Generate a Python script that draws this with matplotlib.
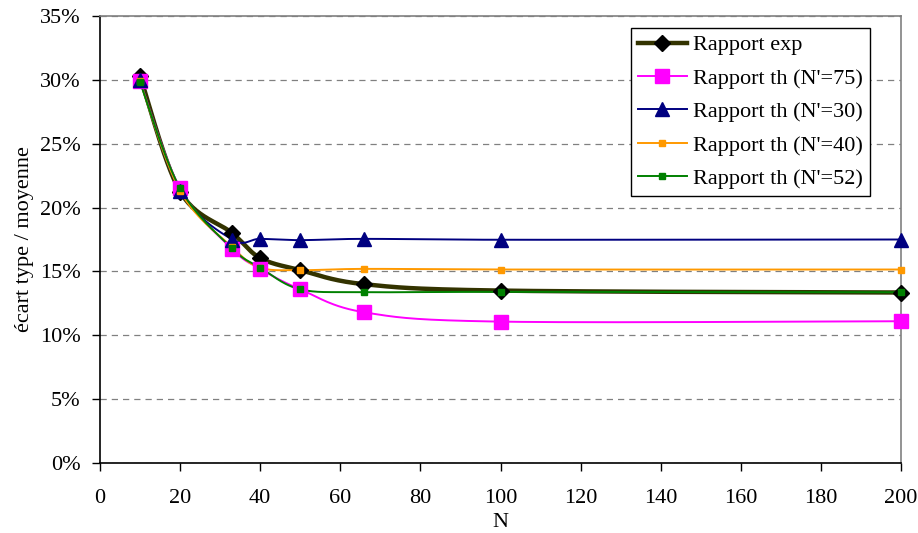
import numpy as np
import matplotlib
matplotlib.use("Agg")
import matplotlib.pyplot as plt
from matplotlib.ticker import FuncFormatter, MultipleLocator

plt.rcParams['font.family'] = ['Liberation Serif', 'DejaVu Serif']

N = [10, 20, 33, 40, 50, 66, 100, 200]
exp_vals = [30.3, 21.25, 18.0, 16.05, 15.1, 14.0, 13.5, 13.35]
th75 = [29.9, 21.5, 16.75, 15.2, 13.6, 11.8, 11.07, 11.1]
th30 = [30.0, 21.3, 17.5, 17.55, 17.45, 17.55, 17.48, 17.5]
th40 = [29.9, 21.3, 16.9, 15.3, 15.1, 15.2, 15.15, 15.15]
th52 = [29.8, 21.5, 16.8, 15.3, 13.6, 13.38, 13.4, 13.37]

labels = ["Rapport exp", "Rapport th (N'=75)", "Rapport th (N'=30)",
          "Rapport th (N'=40)", "Rapport th (N'=52)"]

FS = 16

fig = plt.figure(figsize=(9.18, 5.33), dpi=100)
ax = fig.add_axes([100/918, 1-463/533, 801/918, 447/533])
ax.set_xlim(0, 200)
ax.set_ylim(0, 35)


def smooth(x, y, n=30):
    # Excel-like smoothing: Bezier segments (Catmull-Rom) in display space
    pts = ax.transData.transform(np.column_stack([x, y]))
    P = np.vstack([pts[0], pts, pts[-1]])
    out = []
    for i in range(1, len(P) - 2):
        p0, p1, p2, p3 = P[i-1], P[i], P[i+1], P[i+2]
        c1 = p1 + (p2 - p0) / 6.0
        c2 = p2 - (p3 - p1) / 6.0
        t = np.linspace(0, 1, n)[:, None]
        seg = ((1-t)**3)*p1 + 3*((1-t)**2)*t*c1 + 3*(1-t)*t**2*c2 + t**3*p2
        out.append(seg if i == 1 else seg[1:])
    out = np.vstack(out)
    d = ax.transData.inverted().transform(out)
    return d[:, 0], d[:, 1]


styles = [
    (exp_vals, dict(color='#333300', lw=3.2), dict(marker='D', ms=8, mfc='black', mec='black')),
    (th75, dict(color='#FF00FF', lw=1.4), dict(marker='s', ms=9.5, mfc='#FF00FF', mec='#FF00FF')),
    (th30, dict(color='#000080', lw=1.4), dict(marker='^', ms=10, mfc='#000080', mec='#000080')),
    (th40, dict(color='#FF9900', lw=1.4), dict(marker='s', ms=4, mfc='#FF9900', mec='#FF9900')),
    (th52, dict(color='#008000', lw=1.4), dict(marker='s', ms=4, mfc='#008000', mec='#008000')),
]

handles = []
for (vals, lstyle, mstyle), lab in zip(styles, labels):
    sx, sy = smooth(N, vals)
    ax.plot(sx, sy, zorder=3, solid_capstyle='round', **lstyle)
    ax.plot(N, vals, ls='none', zorder=4, clip_on=False, **mstyle)
    h, = ax.plot([], [], label=lab, **lstyle, **mstyle)
    handles.append(h)

ax.yaxis.set_major_locator(MultipleLocator(5))
ax.xaxis.set_major_locator(MultipleLocator(20))
ax.yaxis.set_major_formatter(FuncFormatter(lambda v, p: f"{v:.0f}%"))
ax.grid(axis='y', color='#808080', ls=(0, (5, 4)), lw=0.9)
ax.set_axisbelow(True)

for s in ['left', 'bottom']:
    ax.spines[s].set_color('black')
    ax.spines[s].set_linewidth(1.2)
for s in ['top', 'right']:
    ax.spines[s].set_color('#808080')
    ax.spines[s].set_linewidth(1.2)

ax.tick_params(axis='both', direction='out', length=6, width=1, labelsize=FS,
               colors='black')
ax.tick_params(axis='y', pad=8)
ax.tick_params(axis='x', pad=13)

ax.set_xlabel("N", fontsize=FS, labelpad=3)
ax.set_ylabel("écart type / moyenne", fontsize=FS, labelpad=4)

leg = ax.legend(handles=handles, loc='upper right', bbox_to_anchor=(0.961, 0.973),
                fontsize=FS, frameon=True, fancybox=False, edgecolor='black',
                framealpha=1, borderpad=0.3, labelspacing=0.58, handlelength=2.2,
                handletextpad=0.3, borderaxespad=0)
leg.get_frame().set_linewidth(1.0)

fig.savefig("out.png", dpi=100)
